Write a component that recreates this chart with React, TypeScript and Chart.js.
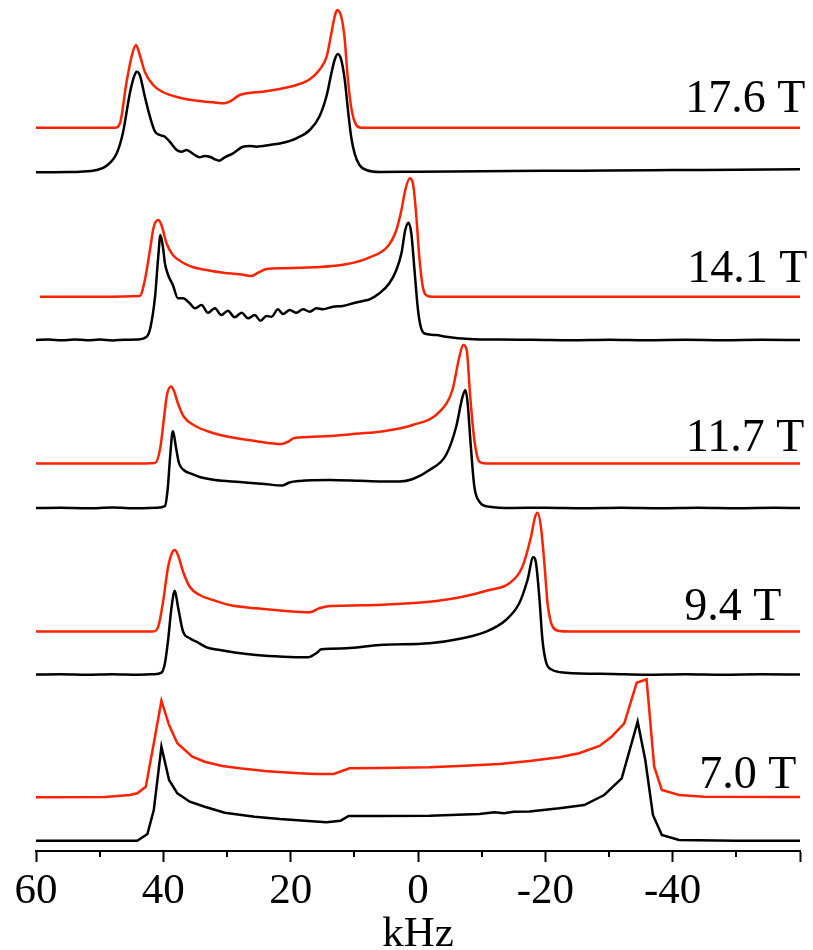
import React, { useEffect, useRef } from 'react';
import { Chart, registerables } from 'chart.js';

Chart.register(...registerables);

const SERIF = "'Liberation Serif', 'Times New Roman', Times, serif";
const RED = '#ff2200';
const BLACK = '#000000';

// ---- x tick config (kHz) ----
const xMin = -60;
const xMax = 60;
const majorStep = 20;
const minorTicks = [50, 30, 10, -10, -30, -50];

// ---- field labels ----
const fieldLabels = ['17.6 T', '14.1 T', '11.7 T', '9.4 T', '7.0 T'];
const labelLeftKHz = [-41.96, -42.3, -42.07, -41.8, -44.16];
const labelBaseY = [73.87, 56.9, 40.03, 23.1, 6.27];

// ---- vertical stacking offsets (a.u.) ----
const calcOffsets = [72.33, 55.43, 38.75, 21.95, 5.37];
const expOffsets = [67.87, 51.1, 34.3, 17.65, 1.03];

// ---- 17.6 T ----
const k176c = [60, 50, 47.6, 46.8, 45.8, 45.0, 44.3, 43.7, 42.9, 41.6, 40.1, 37.4, 34.7, 32.2, 30.4, 29.6, 28.0, 26.9, 24.4, 21.7, 19.1, 17.0, 15.5, 14.35, 13.6, 13.1, 12.7, 12.0, 11.5, 11.1, 10.5, 9.7, 8.9, 0, -30, -60];
const i176c = [0, 0, 0, 0.47, 4.47, 7.07, 8.27, 7.27, 5.57, 4.27, 3.57, 3.0, 2.7, 2.54, 2.44, 2.6, 3.27, 3.44, 3.6, 3.87, 4.27, 4.84, 5.77, 7.1, 9.47, 11.1, 11.77, 10.97, 8.77, 5.47, 2.07, 0.27, 0, 0, 0, 0];
const k176e = [60, 57, 55, 53.1, 50.5, 48.9, 47.3, 46.35, 45.25, 44.6, 44.2, 43.7, 42.9, 42.1, 41.3, 40.55, 39.75, 39.0, 37.9, 37.15, 36.35, 35.3, 34.3, 33.5, 32.7, 31.9, 31.25, 30.35, 29.05, 27.5, 26.4, 25.4, 23.3, 21.2, 19.1, 17.0, 15.5, 14.4, 13.6, 13.1, 12.6, 12.05, 11.5, 11.0, 10.5, 9.96, 9.2, 8.1, 6.0, 0, -10, -20, -30, -40, -50, -60];
const i176e = [0, 0.01, 0.03, 0.06, 0.23, 0.66, 1.93, 3.93, 7.93, 9.56, 10.06, 9.73, 7.56, 5.56, 4.06, 3.73, 3.56, 3.06, 2.23, 2.06, 2.23, 1.83, 1.5, 1.63, 1.56, 1.3, 1.16, 1.5, 1.9, 2.56, 2.63, 2.56, 2.73, 2.96, 3.4, 4.23, 5.56, 7.56, 9.9, 11.23, 11.83, 11.23, 9.23, 6.23, 3.56, 1.9, 0.73, 0.23, 0.03, 0.06, 0.1, 0.15, 0.18, 0.22, 0.26, 0.3];

// ---- 14.1 T ----
const k141c = [59.4, 50, 43.7, 42.9, 42.1, 41.5, 40.8, 40.3, 39.5, 38.5, 36.9, 35.3, 33.2, 30.6, 28.0, 26.2, 25.1, 23.8, 21.2, 16.5, 11.3, 7.6, 4.7, 3.4, 2.6, 2.0, 1.3, 0.8, 0.3, -0.2, -0.75, -1.5, -2.3, -30, -60];
const i141c = [0, 0, 0.07, 1.67, 4.67, 7.0, 7.67, 7.17, 5.34, 4.17, 3.4, 2.94, 2.67, 2.4, 2.24, 2.07, 2.4, 2.77, 2.84, 2.94, 3.24, 3.94, 5.07, 6.67, 8.67, 10.67, 11.84, 11.34, 8.34, 4.0, 1.0, 0.07, 0, 0, 0];
const k141e = [60, 58, 56, 54, 52, 50, 48, 46, 44, 42.6, 42.0, 41.3, 40.8, 40.45, 40.0, 39.75, 39.25, 38.5, 37.7, 36.9, 35.85, 35.05, 34.0, 33.0, 31.9, 30.9, 29.85, 28.8, 27.7, 26.7, 25.65, 24.75, 23.8, 23.0, 22.0, 21.2, 20.15, 19.1, 18.05, 17.0, 15.95, 14.9, 13.35, 11.8, 10.2, 8.65, 7.6, 6.05, 4.5, 3.4, 2.6, 2.0, 1.5, 1.05, 0.55, 0.0, -0.5, -1.3, -2.85, -4.4, -8.1, -12.8, -18, -24, -30, -36, -42, -48, -54, -60];
const i141e = [0, 0.04, -0.03, 0.05, -0.02, 0.04, -0.04, 0.03, 0.05, 0.33, 1.33, 4.33, 8.33, 10.5, 9.0, 7.67, 6.5, 5.5, 4.17, 4.17, 3.67, 3.17, 3.5, 2.73, 3.17, 2.5, 2.93, 2.27, 2.73, 2.17, 2.5, 1.93, 2.4, 2.33, 3.07, 2.6, 3.0, 2.73, 3.07, 2.83, 3.17, 3.07, 3.33, 3.4, 3.67, 3.9, 4.07, 4.67, 5.67, 7.0, 8.67, 11.0, 11.73, 10.67, 7.0, 3.0, 1.17, 0.6, 0.5, 0.33, 0.1, 0.04, 0.03, -0.02, 0.03, -0.02, 0.02, -0.02, 0.02, 0];

// ---- 11.7 T ----
const k117c = [60, 45, 41.3, 40.5, 39.9, 39.45, 38.8, 38.35, 37.7, 36.8, 35.1, 32.7, 29.6, 25.6, 21.4, 20.5, 19.4, 15.5, 9.2, 6.0, 0.85, -3.4, -5.4, -6.5, -7.1, -7.65, -8.2, -8.85, -9.65, -10.7, -35, -60];
const i117c = [0, 0, 0.05, 1.5, 4.5, 6.8, 7.7, 7.3, 6.0, 4.7, 3.8, 3.15, 2.65, 2.25, 1.95, 2.15, 2.55, 2.7, 3.0, 3.18, 3.85, 5.18, 7.35, 10.68, 11.85, 11.35, 6.68, 2.35, 0.18, 0, 0, 0];
const k117e = [60, 56, 52, 48, 44, 41, 39.75, 39.3, 38.95, 38.5, 38.0, 37.55, 36.8, 35.5, 34.3, 31.9, 28.0, 24.1, 21.3, 20.2, 18.6, 13.9, 9.2, 6.0, 2.9, 0.8, -1.8, -4.4, -6.0, -7.0, -7.45, -7.8, -8.3, -8.85, -9.65, -11.2, -14.8, -20, -26, -32, -38, -44, -50, -56, -60];
const i117e = [0, 0.03, -0.02, 0.04, -0.02, 0.03, 0.2, 2.0, 5.0, 7.7, 6.0, 4.5, 3.8, 3.4, 3.1, 2.8, 2.6, 2.4, 2.25, 2.55, 2.7, 2.8, 2.72, 2.65, 2.65, 2.9, 3.8, 5.3, 8.13, 11.13, 11.8, 10.47, 6.13, 2.13, 0.63, 0.13, 0, 0.03, -0.02, 0.03, -0.02, 0.03, -0.02, 0.02, 0];

// ---- 9.4 T ----
const k94c = [60, 45, 41.6, 40.8, 40.0, 39.25, 38.55, 38.2, 37.7, 36.9, 35.85, 34.3, 32.2, 29.6, 25.4, 21.2, 17.0, 15.5, 13.9, 8.65, 3.4, -1.8, -7.0, -11.2, -14.35, -16.4, -17.75, -18.4, -18.8, -19.3, -19.85, -20.35, -21.15, -22.2, -23.8, -40, -60];
const i94c = [0, 0, 0, 0.48, 3.15, 6.48, 7.98, 8.15, 7.65, 5.98, 4.48, 3.65, 3.15, 2.65, 2.32, 2.08, 1.92, 2.32, 2.55, 2.62, 2.75, 2.98, 3.48, 4.15, 4.82, 6.48, 9.48, 11.48, 11.88, 10.48, 6.82, 2.82, 0.48, 0.05, 0, 0, 0];
const k94e = [60, 56, 52, 48, 44, 41.5, 40.3, 39.75, 39.25, 38.7, 38.2, 37.7, 36.9, 35.85, 34.8, 33.2, 31.1, 28.5, 25.4, 21.2, 17.3, 16.0, 15.2, 11.3, 6.0, -1.8, -7.0, -10.7, -13.8, -15.9, -17.2, -18.1, -18.5, -19.05, -19.55, -20.1, -20.9, -23.2, -30.5, -36, -42, -48, -54, -60];
const i94e = [0, 0.03, -0.02, 0.03, -0.02, 0.03, 0.18, 1.12, 3.45, 6.78, 8.38, 6.78, 4.28, 3.62, 3.28, 2.72, 2.45, 2.18, 1.95, 1.78, 1.72, 2.12, 2.52, 2.62, 2.95, 3.12, 3.62, 4.28, 5.45, 7.12, 9.45, 11.72, 11.28, 7.78, 3.45, 1.28, 0.52, 0.18, 0.05, -0.02, 0.03, -0.02, 0.02, 0];

// ---- 7.0 T ----
const k70c = [60, 49.2, 45.25, 44.1, 42.75, 41.5, 40.3, 39.1, 37.8, 35.45, 33.5, 30.75, 28.0, 24.1, 20.15, 16.2, 13.25, 10.75, 6.05, -1.8, -6.5, -12.8, -17.5, -22.2, -25.3, -28.5, -30.4, -32.4, -34.35, -35.9, -37.1, -38.3, -41.0, -44.95, -60];
const i70c = [0, 0.03, 0.23, 0.4, 1.06, 5.4, 9.66, 7.23, 5.4, 4.06, 3.56, 3.13, 2.9, 2.63, 2.46, 2.33, 2.33, 2.9, 2.93, 3.0, 3.13, 3.33, 3.63, 4.0, 4.4, 5.13, 6.06, 7.4, 11.46, 11.8, 3.06, 0.73, 0.23, 0.06, 0.03];
const k70e = [60, 50, 44.1, 42.5, 41.5, 40.3, 39.1, 37.8, 35.85, 33.5, 30.35, 25.65, 21.7, 17.8, 14.4, 12.15, 10.9, 6.05, -1.8, -9.65, -12, -13.5, -15, -17.5, -22.2, -26.1, -29.25, -32.0, -34.5, -35.7, -36.9, -38.3, -41.0, -50, -60];
const i70e = [0, 0, 0, 0.67, 3.07, 9.4, 6.07, 4.74, 3.9, 3.4, 2.8, 2.4, 2.17, 2.0, 1.84, 2.0, 2.47, 2.47, 2.5, 2.67, 2.85, 2.75, 2.9, 2.92, 3.24, 3.57, 4.57, 6.24, 11.9, 8.07, 2.57, 0.57, 0.07, 0, 0];

const calcSeries = [
  [k176c, i176c],
  [k141c, i141c],
  [k117c, i117c],
  [k94c, i94c],
  [k70c, i70c],
];
const expSeries = [
  [k176e, i176e],
  [k141e, i141e],
  [k117e, i117e],
  [k94e, i94e],
  [k70e, i70e],
];

function toPoints(ks: number[], vals: number[], offset: number) {
  return ks.map((k, i) => ({ x: k, y: vals[i] + offset }));
}

const overlayPlugin = {
  id: 'overlay',
  afterDraw(chart: any) {
    const ctx = chart.ctx;
    const xs = chart.scales.x;
    const ys = chart.scales.y;
    ctx.save();
    // minor ticks
    ctx.strokeStyle = BLACK;
    ctx.lineWidth = 2;
    ctx.beginPath();
    minorTicks.forEach((v) => {
      const px = Math.round(xs.getPixelForValue(v));
      ctx.moveTo(px, xs.top);
      ctx.lineTo(px, xs.top + 6);
    });
    ctx.stroke();
    // field labels
    ctx.fillStyle = BLACK;
    ctx.font = `46px ${SERIF}`;
    ctx.textAlign = 'left';
    ctx.textBaseline = 'alphabetic';
    fieldLabels.forEach((t, i) => {
      ctx.fillText(t, xs.getPixelForValue(labelLeftKHz[i]), ys.getPixelForValue(labelBaseY[i]));
    });
    ctx.restore();
  },
};

export default function App() {
  const ref = useRef<HTMLCanvasElement>(null);
  useEffect(() => {
    const canvas = ref.current;
    if (!canvas) return;
    const datasets: any[] = [];
    expSeries.forEach(([ks, vals], i) => {
      datasets.push({
        label: `exp ${fieldLabels[i]}`,
        data: toPoints(ks, vals, expOffsets[i]),
        borderColor: BLACK,
        borderWidth: 2.5,
        pointRadius: 0,
        fill: false,
        cubicInterpolationMode: i === 4 ? 'default' : 'monotone',
        tension: 0,
      });
    });
    calcSeries.forEach(([ks, vals], i) => {
      datasets.push({
        label: `calc ${fieldLabels[i]}`,
        data: toPoints(ks, vals, calcOffsets[i]),
        borderColor: RED,
        borderWidth: 2.5,
        pointRadius: 0,
        fill: false,
        cubicInterpolationMode: i === 4 ? 'default' : 'monotone',
        tension: 0,
      });
    });
    const chart = new Chart(canvas, {
      type: 'line',
      data: { datasets },
      options: {
        animation: false,
        responsive: false,
        devicePixelRatio: 1,
        layout: { padding: { left: 36, right: 13, top: 1, bottom: 0 } },
        plugins: { legend: { display: false }, tooltip: { enabled: false } },
        scales: {
          x: {
            type: 'linear',
            position: 'bottom',
            reverse: true,
            min: xMin,
            max: xMax,
            border: { display: true, color: BLACK, width: 2 },
            grid: {
              display: true,
              drawOnChartArea: false,
              drawTicks: true,
              tickLength: 11,
              tickWidth: 2,
              tickColor: BLACK,
            },
            ticks: {
              stepSize: majorStep,
              autoSkip: false,
              maxRotation: 0,
              padding: 4,
              color: BLACK,
              font: { family: SERIF, size: 43, lineHeight: 1.2 },
              callback: (v: any) => (Number(v) === xMin ? '' : String(v)),
            },
            title: {
              display: true,
              text: 'kHz',
              color: BLACK,
              font: { family: SERIF, size: 43, lineHeight: 0.72 },
              padding: 0,
            },
            afterFit: (s: any) => {
              s.height = 99;
            },
          },
          y: { type: 'linear', display: false, min: 0, max: 85 },
        },
      } as any,
      plugins: [overlayPlugin],
    });
    return () => chart.destroy();
  }, []);
  return (
    <div style={{ position: 'absolute', left: 0, top: 0, width: 813, height: 950, background: '#fff' }}>
      <canvas ref={ref} width={813} height={950} style={{ display: 'block' }} />
    </div>
  );
}
